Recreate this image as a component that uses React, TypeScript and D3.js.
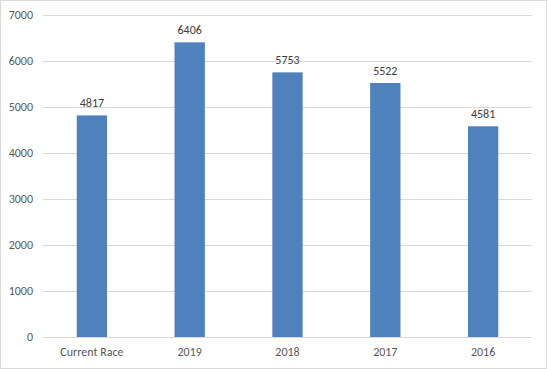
import * as d3 from "d3";
import React, { useEffect, useRef } from "react";

// chart values
const categories = ["Current Race", "2019", "2018", "2017", "2016"];
const values = [4817, 6406, 5753, 5522, 4581];
const yTicks = [0, 1000, 2000, 3000, 4000, 5000, 6000, 7000];

const App: React.FC = () => {
  const ref = useRef<SVGSVGElement>(null);

  useEffect(() => {
    if (!ref.current) return;
    const svg = d3.select(ref.current);
    svg.selectAll("*").remove();

    const width = 547,
      height = 369,
      margin = { top: 15, right: 15, bottom: 32, left: 43 };

    const font = "Carlito, Calibri, 'Liberation Sans', Arial, sans-serif";

    // outer border
    svg
      .append("rect")
      .attr("x", 0.5)
      .attr("y", 0.5)
      .attr("width", width - 1)
      .attr("height", height - 1)
      .attr("fill", "#fff")
      .attr("stroke", "#d9d9d9");

    const x = d3
      .scaleBand()
      .domain(categories)
      .range([margin.left, width - margin.right])
      .padding(0);

    const y = d3
      .scaleLinear()
      .domain([0, 7000])
      .range([height - margin.bottom, margin.top]);

    // grid lines
    svg
      .append("g")
      .selectAll("line")
      .data(yTicks)
      .enter()
      .append("line")
      .attr("x1", margin.left)
      .attr("x2", width - margin.right)
      .attr("y1", (d) => Math.round(y(d)) + 0.5)
      .attr("y2", (d) => Math.round(y(d)) + 0.5)
      .attr("stroke", "#d9d9d9")
      .attr("stroke-width", 1);

    // y tick labels
    svg
      .append("g")
      .selectAll("text")
      .data(yTicks)
      .enter()
      .append("text")
      .attr("x", 33)
      .attr("y", (d) => y(d))
      .attr("dy", "0.35em")
      .attr("text-anchor", "end")
      .style("font-family", font)
      .style("font-size", "12px")
      .style("fill", "#595959")
      .text((d) => d);

    const barW = x.bandwidth() * 0.31;

    const bars = svg
      .append("g")
      .selectAll("g")
      .data(categories.map((c, i) => ({ c, v: values[i] })))
      .enter()
      .append("g");

    bars
      .append("rect")
      .attr("x", (d) => x(d.c)! + x.bandwidth() / 2 - barW / 2)
      .attr("y", (d) => y(d.v))
      .attr("width", barW)
      .attr("height", (d) => y(0) - y(d.v))
      .attr("fill", "#4f81bd");

    bars
      .append("text")
      .attr("x", (d) => x(d.c)! + x.bandwidth() / 2)
      .attr("y", (d) => y(d.v) - 8)
      .attr("text-anchor", "middle")
      .style("font-family", font)
      .style("font-size", "12px")
      .style("fill", "#404040")
      .text((d) => d.v);

    // category labels
    svg
      .append("g")
      .selectAll("text")
      .data(categories)
      .enter()
      .append("text")
      .attr("x", (d) => x(d)! + x.bandwidth() / 2)
      .attr("y", height - margin.bottom + 15)
      .attr("dy", "0.35em")
      .attr("text-anchor", "middle")
      .style("font-family", font)
      .style("font-size", "12px")
      .style("fill", "#595959")
      .text((d) => d);
  }, []);

  return (
    <div style={{ position: "absolute", left: 0, top: 0 }}>
      <svg ref={ref} width={547} height={369} style={{ display: "block" }} />
    </div>
  );
};

export default App;
